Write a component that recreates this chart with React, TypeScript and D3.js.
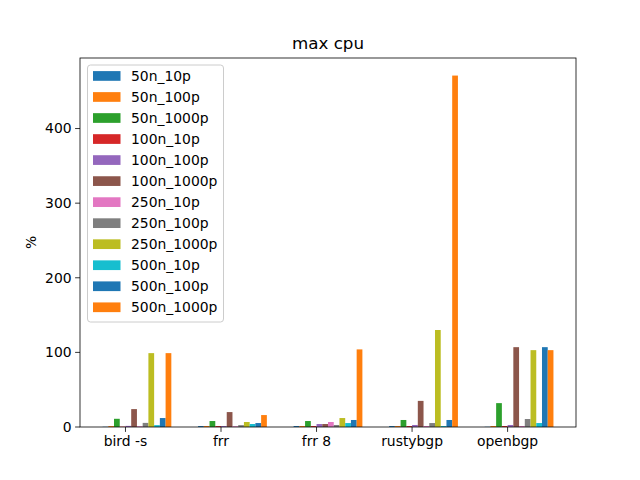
import React from "react";
import * as d3 from "d3";

const categories = ["bird -s", "frr", "frr 8", "rustybgp", "openbgp"];
const seriesNames = [
  "50n_10p", "50n_100p", "50n_1000p",
  "100n_10p", "100n_100p", "100n_1000p",
  "250n_10p", "250n_100p", "250n_1000p",
  "500n_10p", "500n_100p", "500n_1000p",
];
// values[series][category]
const s50n_10p = [0.3, 1.3, 1.3, 1.3, 0.3];
const s50n_100p = [1.2, 1.3, 1.3, 1.3, 1.3];
const s50n_1000p = [11, 8, 8, 9.4, 32];
const s100n_10p = [0.5, 1.3, 1.3, 1.3, 1.3];
const s100n_100p = [1.5, 1.3, 4, 2.7, 2.7];
const s100n_1000p = [24, 20, 4, 35, 107];
const s250n_10p = [1, 1, 6.7, 1.3, 1.3];
const s250n_100p = [5.5, 2.5, 2.7, 5.3, 10.7];
const s250n_1000p = [99, 6.7, 12, 130, 103];
const s500n_10p = [2.5, 4, 5.3, 1.3, 5.3];
const s500n_100p = [12, 5.3, 9.4, 9.4, 107];
const s500n_1000p = [99, 16, 104, 471, 103];
const seriesValues = [
  s50n_10p, s50n_100p, s50n_1000p,
  s100n_10p, s100n_100p, s100n_1000p,
  s250n_10p, s250n_100p, s250n_1000p,
  s500n_10p, s500n_100p, s500n_1000p,
];
const colors = [
  "#1f77b4", "#ff7f0e", "#2ca02c", "#d62728", "#9467bd", "#8c564b",
  "#e377c2", "#7f7f7f", "#bcbd22", "#17becf", "#1f77b4", "#ff7f0e",
];
const yTicks = [0, 100, 200, 300, 400];

export default function App() {
  const W = 640, H = 480;
  const L = 80, R = 576, T = 58, B = 427;
  const barW = 0.06;
  const maxV = d3.max(seriesValues.flat()) as number;
  const x = d3.scaleLinear().domain([-0.476, 4.716]).range([L, R]);
  const y = d3.scaleLinear().domain([0, maxV * 1.05]).range([B, T]);
  const font = "DejaVu Sans, sans-serif";
  const rowH = 21.03;

  return (
    <svg width={W} height={H} style={{ position: "absolute", left: 0, top: 0 }} fontFamily={font}>
      <rect x={0} y={0} width={W} height={H} fill="#fff" />
      {seriesValues.map((vals, i) =>
        vals.map((v, g) => {
          const x0 = x(g - 0.24 + i * barW);
          const x1 = x(g - 0.24 + (i + 1) * barW);
          return (
            <rect key={`${i}-${g}`} x={x0} y={y(v)} width={x1 - x0} height={B - y(v)} fill={colors[i]} />
          );
        })
      )}
      <rect x={L} y={T} width={R - L} height={B - T} fill="none" stroke="#000" strokeWidth={0.8} />
      {categories.map((c, g) => (
        <g key={c}>
          <line x1={x(g)} x2={x(g)} y1={B} y2={B + 4.9} stroke="#000" strokeWidth={0.8} />
          <text x={x(g)} y={B + 18.5} fontSize={13.9} textAnchor="middle">{c}</text>
        </g>
      ))}
      {yTicks.map((t) => (
        <g key={t}>
          <line x1={L - 4.9} x2={L} y1={y(t)} y2={y(t)} stroke="#000" strokeWidth={0.8} />
          <text x={L - 8.4} y={y(t)} dy="0.35em" fontSize={13.9} textAnchor="end">{t}</text>
        </g>
      ))}
      <text x={(L + R) / 2} y={T - 9} fontSize={16.7} textAnchor="middle">max cpu</text>
      <text transform={`translate(${36},${(T + B) / 2}) rotate(-90)`} fontSize={13.9} textAnchor="middle">%</text>
      <g>
        <rect x={87.5} y={65} width={136} height={257} rx={3} fill="#fff" fillOpacity={0.8} stroke="#ccc" strokeWidth={1} />
        {seriesNames.map((n, i) => (
          <g key={n}>
            <rect x={93} y={71.1 + i * rowH} width={27.5} height={9.7} fill={colors[i]} />
            <text x={131} y={76 + i * rowH} dy="0.35em" fontSize={13.9}>{n}</text>
          </g>
        ))}
      </g>
    </svg>
  );
}
